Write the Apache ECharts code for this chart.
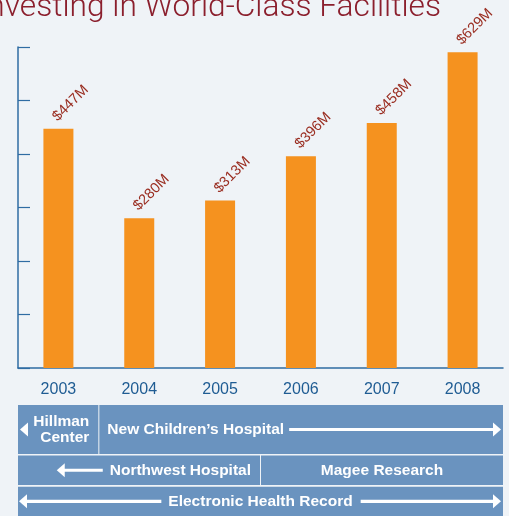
<!DOCTYPE html>
<html>
<head>
<meta charset="utf-8">
<script src="https://cdn.jsdelivr.net/npm/echarts@6/dist/echarts.min.js"></script>
<style>
html,body{margin:0;padding:0;background:#eff3f7;}
#c{width:509px;height:516px;}
</style>
</head>
<body>
<div id="c"></div>
<script>
// ---- data ----
const years = ['2003', '2004', '2005', '2006', '2007', '2008'];
// bar heights as drawn on the axis scale
const barValues = [447, 280, 313, 396, 458, 590];
// value labels printed above the bars
const valueLabels = ['$447M', '$280M', '$313M', '$396M', '$458M', '$629M'];
const titleText = 'Investing in World-Class Facilities';
// project timeline bands (category spans)
const bandLabels = ['Hillman\nCenter', 'New Children\u2019s Hospital', 'Northwest Hospital', 'Magee Research', 'Electronic Health Record'];
const bandRows = [0, 0, 1, 1, 2];
const bandStart = [0, 1, 0, 3, 0];
const bandEnd = [1, 6, 3, 6, 6];
const bandArrows = ['headLeft', 'right', 'left', 'none', 'both'];

// ---- styling ----
const BLUE = '#2f6ca3';
const BAND = '#6a93bf';
const BG = '#eff3f7';
const BAND_FONT_SIZE = 15.5;
const BAND_FONT = 'bold ' + BAND_FONT_SIZE + 'px "Liberation Sans", Arial, sans-serif';

const mctx = document.createElement('canvas').getContext('2d');
mctx.font = BAND_FONT;
function tw(s) { return mctx.measureText(s).width; }

const rowTop = [0, 50.5, 81.7];
const rowH = [49, 29.5, 29.3];

function arrowHead(tipX, cy, dir) {
  const w = 8, h = 7;
  return {
    type: 'polygon',
    shape: { points: [[tipX, cy], [tipX - dir * w, cy - h], [tipX - dir * w, cy + h]] },
    style: { fill: '#fff' }
  };
}
function arrowLine(xa, xb, cy) {
  return { type: 'rect', shape: { x: Math.min(xa, xb), y: cy - 1.6, width: Math.abs(xb - xa), height: 3.2 }, style: { fill: '#fff' } };
}

function renderBand(params, api) {
  const i = params.dataIndex;
  const cs = params.coordSys;
  const s = api.value(0), e = api.value(1), r = api.value(2);
  let x0 = api.coord([s, 0])[0];
  let x1 = api.coord([e, 0])[0];
  if (s > 0) x0 += 0.5;
  if (e < 6) x1 -= 0.5;
  const y0 = cs.y + rowTop[r];
  const h = rowH[r];
  const cy = y0 + h / 2;
  const children = [{ type: 'rect', shape: { x: x0, y: y0, width: x1 - x0, height: h }, style: { fill: BAND } }];
  const label = bandLabels[i];
  const kind = bandArrows[i];
  const txtStyle = { fill: '#fff', font: BAND_FONT, verticalAlign: 'middle' };
  if (kind === 'headLeft') {
    const lines = label.split('\n');
    const lh = 16;
    lines.forEach(function (ln, k) {
      children.push({ type: 'text', style: Object.assign({}, txtStyle, { text: ln, x: x1 - 9, y: cy - lh * (lines.length - 1) / 2 + k * lh, align: 'right' }) });
    });
    children.push(arrowHead(x0 + 2, cy, -1));
  } else if (kind === 'right') {
    const tx = x0 + 8;
    children.push({ type: 'text', style: Object.assign({}, txtStyle, { text: label, x: tx, y: cy, align: 'left' }) });
    const te = tx + tw(label);
    children.push(arrowLine(te + 5, x1 - 8, cy));
    children.push(arrowHead(x1 - 2, cy, 1));
  } else if (kind === 'left') {
    const tx = x1 - 9;
    children.push({ type: 'text', style: Object.assign({}, txtStyle, { text: label, x: tx, y: cy, align: 'right' }) });
    const ts = tx - tw(label);
    children.push(arrowLine(ts - 7, ts - 46, cy));
    children.push(arrowHead(ts - 53, cy, -1));
  } else if (kind === 'both') {
    const mid = (x0 + x1) / 2;
    children.push({ type: 'text', style: Object.assign({}, txtStyle, { text: label, x: mid, y: cy, align: 'center' }) });
    const w = tw(label);
    children.push(arrowLine(mid - w / 2 - 7, x0 + 8, cy));
    children.push(arrowHead(x0 + 1, cy, -1));
    children.push(arrowLine(mid + w / 2 + 8, x1 - 8, cy));
    children.push(arrowHead(x1 - 2, cy, 1));
  } else {
    children.push({ type: 'text', style: Object.assign({}, txtStyle, { text: label, x: (x0 + x1) / 2, y: cy, align: 'center' }) });
  }
  return { type: 'group', children: children };
}

const chart = echarts.init(document.getElementById('c'), null, { renderer: 'canvas' });
chart.setOption({
  backgroundColor: BG,
  animation: false,
  graphic: [{
    type: 'text',
    right: 509 - 441,
    top: -8,
    style: {
      text: titleText,
      fill: '#8b1f2d',
      font: '300 31.7px Roboto, "Liberation Sans", Arial, sans-serif'
    }
  }],
  grid: [
    { left: 18, right: 6, top: 47, height: 321 },
    { left: 18, right: 6, top: 405, bottom: 0 }
  ],
  xAxis: [{
    type: 'category',
    data: years,
    gridIndex: 0,
    axisLine: { lineStyle: { color: BLUE, width: 1.5 } },
    axisTick: { inside: true, length: 8, lineStyle: { color: BLUE, width: 1.2 } },
    axisLabel: { color: '#1f5c93', fontSize: 16, margin: 14, fontFamily: '"Liberation Sans", Arial, sans-serif' },
    splitLine: { show: false }
  }, {
    type: 'value', gridIndex: 1, min: 0, max: 6, show: false
  }],
  yAxis: [{
    type: 'value',
    gridIndex: 0,
    min: 0, max: 600, interval: 100,
    axisLine: { show: true, lineStyle: { color: BLUE, width: 1.5 } },
    axisTick: { show: true, inside: true, length: 12, lineStyle: { color: BLUE, width: 1.2 } },
    axisLabel: { show: false },
    splitLine: { show: false }
  }, {
    type: 'value', gridIndex: 1, min: 0, max: 2, inverse: true, show: false
  }],
  series: [{
    type: 'bar',
    xAxisIndex: 0, yAxisIndex: 0,
    data: barValues,
    barWidth: 30,
    itemStyle: { color: '#f5921f' },
    label: {
      show: true,
      position: 'top',
      distance: 5,
      rotate: 45,
      align: 'left',
      verticalAlign: 'middle',
      offset: [1, -6],
      color: '#9a2e22',
      fontSize: 14.5,
      fontFamily: '"Liberation Sans", Arial, sans-serif',
      formatter: function (p) { return valueLabels[p.dataIndex]; }
    }
  }, {
    type: 'custom',
    xAxisIndex: 1, yAxisIndex: 1,
    clip: false,
    encode: { x: [0, 1], y: 2 },
    data: bandLabels.map(function (_, i) { return [bandStart[i], bandEnd[i], bandRows[i]]; }),
    renderItem: renderBand
  }]
});
</script>
</body>
</html>
